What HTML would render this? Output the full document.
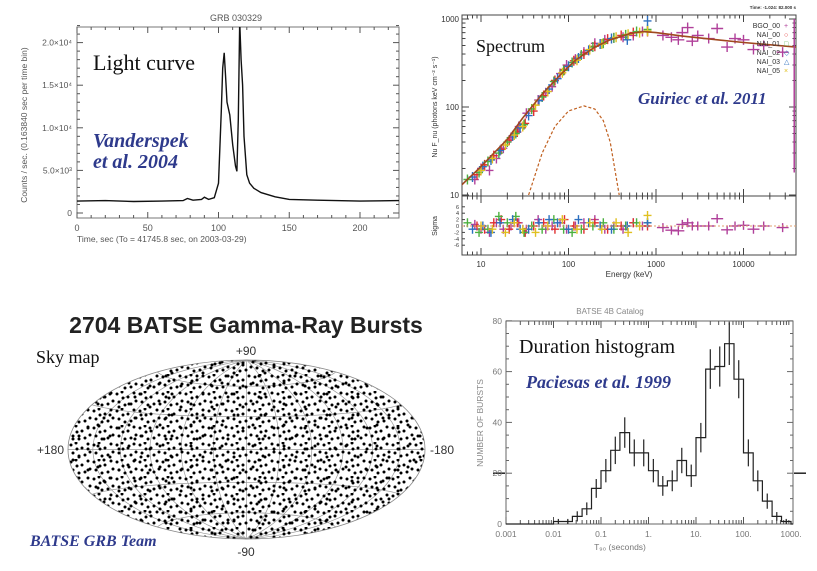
<!DOCTYPE html>
<html><head><meta charset="utf-8"><style>
html,body{margin:0;padding:0;background:#fff}
svg{display:block}
text{font-family:"Liberation Sans",sans-serif}
.cap{font-family:"Liberation Serif",serif;fill:#111}
.cite{font-family:"Liberation Serif",serif;font-style:italic;font-weight:bold;fill:#2e3a8c}
</style></head><body>
<svg id="s" width="817" height="571" viewBox="0 0 817 571" xmlns="http://www.w3.org/2000/svg">
<defs>
<clipPath id="ellClip"><ellipse cx="246.5" cy="449.5" rx="178.5" ry="89.5"/></clipPath>
<clipPath id="lcClip"><rect x="77" y="27" width="322" height="191"/></clipPath>
<clipPath id="spClip"><rect x="462" y="15" width="334" height="181"/></clipPath>
<pattern id="dotsA" width="23" height="17" patternUnits="userSpaceOnUse">
<circle cx="2" cy="3" r="1.5"/><circle cx="7" cy="1" r="1.5"/><circle cx="13" cy="6" r="1.5"/><circle cx="19" cy="2" r="1.5"/><circle cx="21" cy="10" r="1.5"/><circle cx="4" cy="11" r="1.5"/><circle cx="10" cy="14" r="1.5"/><circle cx="16" cy="13" r="1.5"/><circle cx="8" cy="7" r="1.5"/>
</pattern>
<pattern id="dotsB" width="31" height="21" patternUnits="userSpaceOnUse">
<circle cx="5" cy="5" r="1.5"/><circle cx="17" cy="16" r="1.5"/><circle cx="26" cy="8" r="1.5"/><circle cx="11" cy="19" r="1.5"/>
</pattern>
</defs>
<g id="lc"></g>
<g id="sp"></g>
<g id="sky"></g>
<g id="hist"></g>
</svg>
<script>
// ---------- Light curve data ----------
const lcTimes=[-3,20,40,60,75,78,82,88,90,93,97,100,102,103,104,105,106,108,110,112,113,114,115,116,117,118,120,122,125,130,140,150,170,200,228];
const lcCounts=[1400,1450,1350,1400,1450,1700,1500,1600,1850,1600,1800,3500,12000,17000,18800,16000,13000,11500,8000,5500,4900,11000,22500,18000,15000,9000,4500,3500,2900,2400,1900,1600,1500,1400,1450];
const lcXTicks=[0,50,100,150,200];
const lcYTicks=[0,5000,10000,15000,20000];
const lcYLabels=["0","5.0×10³","1.0×10⁴","1.5×10⁴","2.0×10⁴"];
// ---------- Spectrum data ----------
const modelE=[6,8,10,15,20,30,50,80,120,200,300,500,700,1000,2000,5000,10000,40000];
const modelV=[13,17,21,32,43,75,140,230,340,480,580,680,720,700,640,580,540,480];
const bbE=[35,50,70,100,150,200,250,300,380];
const bbV=[10,30,60,90,103,95,70,40,10];
const magE=[8.5,10,12.5,15,18,22,27,33,45,55,65,80,95,120,150,200,260,330,420,550,700,1200,1500,1800,2000,2300,2600,3000,4000,5000,6500,8000,10000,13000,17000,28000];
const magV=[15,20,19,26,34,45,60,85,120,145,170,240,300,350,420,530,580,610,620,650,720,650,620,580,700,800,560,650,600,780,480,600,580,450,500,420];
const magS=[0.5,-1,-2,1,-1,0,1,-1,2,-1,0,1,-1,0,1,2,-1,0,-1,1,0,-0.5,-1.3,-1.5,0.5,1,0,0,0,2.3,-1.2,0,0.2,-1,0,-0.5];
const redE=[9,11,14,17,21,26,32,40,52,70,90,115,150,200,280,400,550,800];
const redV=[17,22,28,33,42,52,65,90,135,200,265,335,400,490,590,650,700,720];
const redS=[0,-1,1,2,-1,1,-2,0,1,-1,2,0,-1,1,-1,0,1,0];
const grnE=[7,9.5,12,16,20,25,31,38,50,68,88,110,140,190,250,330,450,600,800];
const grnV=[15,18,24,30,40,50,63,95,130,195,260,320,390,480,530,610,660,720,760];
const grnS=[1,-2,-1,3,1,3,-2,0,-1,2,-1,-2,-1,0,1,-1,0,1,1];
const bluE=[8,10.5,13,16.5,23,28,35,46,60,75,100,130,170,230,310,470,800];
const bluV=[16,21,25,32,47,58,80,118,160,210,290,360,440,520,600,580,950];
const bluS=[-1,0,-2,1,2,-1,-1,1,2,1,-1,2,1,0,-1,0,1];
const yelE=[10,13.5,19,24,30,42,58,85,125,175,240,350,480,650,800];
const yelV=[19,26,37,48,60,105,150,245,340,450,520,620,670,700,730];
const yelS=[0,-1,-2,1,-1,-2,0,2,-1,1,-1,1,-2,0,3.3];
const spXTicks=[10,100,1000,10000];
const spYTicks=[10,100,1000];
const resTicks=[-6,-4,-2,0,2,4,6];
const legendNames=["BGO_00","NAI_00","NAI_01","NAI_02","NAI_03","NAI_05"];
const legendSyms=["+","○","□","◇","△","×"];
// ---------- Histogram data ----------
const histEdges=[0.001,0.0016,0.0025,0.004,0.0063,0.01,0.016,0.025,0.04,0.063,0.1,0.16,0.25,0.4,0.63,1,1.6,2.5,4,6.3,10,16,25,40,63,100,160,250,400,630,1000,1400];
const histCounts=[0,0,0,0,0,1,1,3,6,14,21,29,36,28,28,21,15,17,25,19,34,61,62,71,57,28,17,9,3,1,0];
const histErrors=[0,0,0,0,0,1,1,2,2.5,3.7,4.6,5.4,6,5.3,5.3,4.6,3.9,4.1,5,4.4,5.8,7.8,7.9,8.4,7.5,5.3,4.1,3,1.7,1,0];
const histXTicks=[0.001,0.01,0.1,1,10,100,1000];
const histXLabels=["0.001","0.01","0.1","1.","10.","100.","1000."];
const histYTicks=[0,20,40,60,80];

const NS="http://www.w3.org/2000/svg";
function mk(parent,tag,attrs,txt){const e=document.createElementNS(NS,tag);for(const k in attrs)e.setAttribute(k,attrs[k]);if(txt!==undefined)e.textContent=txt;parent.appendChild(e);return e;}
const L=Math.log10;

// ===== Light curve =====
(function(){
const g=document.getElementById('lc');
const X=t=>77+1.415*t, Y=v=>213-v*0.00852;
mk(g,'text',{x:236,y:21,'font-size':9,fill:'#555','text-anchor':'middle'},'GRB 030329');
const fr=mk(g,'rect',{x:77,y:27,width:322,height:191,fill:'none',stroke:'#777','stroke-width':1});

for(let t=0;t<=225;t+=10){const big=t%50===0;mk(g,'line',{x1:X(t),x2:X(t),y1:218,y2:218-(big?6:3),stroke:'#555'});mk(g,'line',{x1:X(t),x2:X(t),y1:27,y2:27+(big?6:3),stroke:'#555'});}
lcXTicks.forEach(t=>{const e=mk(g,'text',{x:X(t),y:231,'font-size':9,fill:'#555','text-anchor':'middle'},String(t));});
for(let v=0;v<=22000;v+=1000){const big=v%5000===0;mk(g,'line',{x1:77,x2:77+(big?6:3),y1:Y(v),y2:Y(v),stroke:'#555'});mk(g,'line',{x1:399,x2:399-(big?6:3),y1:Y(v),y2:Y(v),stroke:'#555'});}
lcYTicks.forEach((v,i)=>{const e=mk(g,'text',{x:72,y:Y(v)+3,'font-size':8.5,fill:'#555','text-anchor':'end'},lcYLabels[i]);});
const yt=mk(g,'text',{x:27,y:125,'font-size':8.5,fill:'#555','text-anchor':'middle',transform:'rotate(-90 27 125)'},'Counts / sec.   (0.163840 sec per time bin)');
const xt=mk(g,'text',{x:77,y:242,'font-size':8.5,fill:'#555'},'Time, sec        (To = 41745.8 sec,   on 2003-03-29)');
const d=lcTimes.map((t,i)=>(i?'L':'M')+X(t).toFixed(1)+','+Y(lcCounts[i]).toFixed(1)).join('');
const p=mk(g,'path',{d:d,fill:'none',stroke:'#111','stroke-width':1.4,'clip-path':'url(#lcClip)'});

const c1=mk(g,'text',{x:93,y:70,'font-size':22,class:'cap'},'Light curve');
const c2=mk(g,'text',{x:93,y:147,'font-size':20,class:'cite'},'Vanderspek');
mk(g,'text',{x:93,y:168,'font-size':20,class:'cite'},'et al. 2004');
})();

// ===== Spectrum =====
(function(){
const g=document.getElementById('sp');
const X=E=>481+87.5*L(E/10), Y=v=>195-88*L(v/10), R=s=>226-3.2*s;
mk(g,'text',{x:796,y:9,'font-size':4.5,fill:'#333','text-anchor':'end','font-weight':'bold'},'Time: -1.024: 82.000 s');
const fr=mk(g,'rect',{x:462,y:15,width:334,height:240,fill:'none',stroke:'#444','stroke-width':1});
mk(g,'line',{x1:462,x2:796,y1:196,y2:196,stroke:'#444'});
for(let dec=0;dec<5;dec++)for(let m=1;m<10;m++){const E=Math.pow(10,dec)*m;const x=X(E);if(x<462||x>796)continue;const h=m===1?7:3.5;
[[196,196-h],[15,15+h],[255,255-h],[196,196+h]].forEach(a=>mk(g,'line',{x1:x,x2:x,y1:a[0],y2:a[1],stroke:'#444'}));}
for(let dec=1;dec<4;dec++)for(let m=1;m<10;m++){const v=Math.pow(10,dec)*m;const y=Y(v);if(y<15)continue;const h=m===1?7:3.5;mk(g,'line',{x1:462,x2:462+h,y1:y,y2:y,stroke:'#444'});mk(g,'line',{x1:796,x2:796-h,y1:y,y2:y,stroke:'#444'});}
spXTicks.forEach(E=>{const e=mk(g,'text',{x:X(E),y:267,'font-size':8,fill:'#333','text-anchor':'middle'},String(E));});
spYTicks.forEach(v=>{const e=mk(g,'text',{x:459,y:Y(v)+3,'font-size':8,fill:'#333','text-anchor':'end'},String(v));});
resTicks.forEach(s=>{mk(g,'text',{x:459,y:R(s)+2,'font-size':5.5,fill:'#333','text-anchor':'end'},String(s));mk(g,'line',{x1:462,x2:465,y1:R(s),y2:R(s),stroke:'#444'});});
const yt=mk(g,'text',{x:437,y:107,'font-size':7,fill:'#333','text-anchor':'middle',transform:'rotate(-90 437 107)'},'Nu F_nu (photons keV cm⁻² s⁻¹)');
mk(g,'text',{x:437,y:226,'font-size':7,fill:'#333','text-anchor':'middle',transform:'rotate(-90 437 226)'},'Sigma');
const xt=mk(g,'text',{x:629,y:277,'font-size':8,fill:'#333','text-anchor':'middle'},'Energy (keV)');
const gp=mk(g,'g',{'clip-path':'url(#spClip)'});
const series=[[magE,magV,magS,'#b0409a'],[redE,redV,redS,'#e03030'],[grnE,grnV,grnS,'#4cb040'],[bluE,bluV,bluS,'#2c6fc0'],[yelE,yelV,yelS,'#e0c020']];
const md=modelE.map((E,i)=>(i?'L':'M')+X(E).toFixed(1)+','+Y(modelV[i]).toFixed(1)).join('');
mk(gp,'path',{d:md,fill:'none',stroke:'#e0a070','stroke-width':1});
series.forEach((s,si)=>{const[E,V,S,c]=s;E.forEach((e,i)=>{const x=X(e),y=Y(V[i]);const w=e>1000?6:4;
const m1=mk(gp,'path',{d:`M${x-w},${y}H${x+w}M${x},${y-5}V${y+5}`,stroke:c,'stroke-width':1.4});
const r=R(S[i]);const m2=mk(g,'path',{d:`M${x-w},${r}H${x+w}M${x},${r-4.5}V${r+4.5}`,stroke:c,'stroke-width':1.4});});});
mk(g,'path',{d:`M${X(38000)},${Y(18)}V${Y(1000)}`,stroke:'#b0409a','stroke-width':1.5});
const mp=mk(gp,'path',{d:md,fill:'none',stroke:'#a04820','stroke-width':1.6});
const bd=bbE.map((E,i)=>(i?'L':'M')+X(E).toFixed(1)+','+Y(bbV[i]).toFixed(1)).join('');
const bp=mk(gp,'path',{d:bd,fill:'none',stroke:'#c06020','stroke-width':1.2,'stroke-dasharray':'3,2'});
mk(g,'line',{x1:462,x2:796,y1:R(0),y2:R(0),stroke:'#e0a070','stroke-dasharray':'2,2'});
const legC=['#b0409a','#e03030','#4cb040','#2c6fc0','#2c6fc0','#e0c020'];
legendNames.forEach((n,i)=>{const e=mk(g,'text',{x:780,y:28+i*9,'font-size':7,fill:'#333','text-anchor':'end'},n);mk(g,'text',{x:784,y:28+i*9,'font-size':7,fill:legC[i]},legendSyms[i]);});
const c1=mk(g,'text',{x:476,y:52,'font-size':18,class:'cap'},'Spectrum');
const c2=mk(g,'text',{x:638,y:104,'font-size':17,class:'cite'},'Guiriec et al. 2011');
})();

// ===== Sky map =====
(function(){
const g=document.getElementById('sky');
const cx=246.5,cy=449.5,rx=178.5,ry=89.5;
const t=mk(g,'text',{x:246,y:333,'font-size':23,'font-weight':'bold',fill:'#222','text-anchor':'middle'},'2704 BATSE Gamma-Ray Bursts');
function H(lon,lat){const l=lon*Math.PI/180,p=lat*Math.PI/180;const d=Math.sqrt(1+Math.cos(p)*Math.cos(l/2));return[cx+rx*Math.cos(p)*Math.sin(l/2)/d,cy-ry*Math.sin(p)/d];}
for(let lon=-150;lon<=150;lon+=30){let d='';for(let lat=-90;lat<=90;lat+=5){const q=H(lon,lat);d+=(lat===-90?'M':'L')+q[0].toFixed(1)+','+q[1].toFixed(1);}mk(g,'path',{d:d,fill:'none',stroke:'#999','stroke-width':0.7});}
for(let lat=-60;lat<=60;lat+=30){let d='';for(let lon=-180;lon<=180;lon+=5){const q=H(lon,lat);d+=(lon===-180?'M':'L')+q[0].toFixed(1)+','+q[1].toFixed(1);}mk(g,'path',{d:d,fill:'none',stroke:'#999','stroke-width':0.7});}
const dA=mk(g,'rect',{x:60,y:355,width:370,height:190,fill:'url(#dotsA)','clip-path':'url(#ellClip)'});
mk(g,'rect',{x:63,y:358,width:370,height:190,fill:'url(#dotsB)','clip-path':'url(#ellClip)'});
const el=mk(g,'ellipse',{cx:cx,cy:cy,rx:rx,ry:ry,fill:'none',stroke:'#888','stroke-width':0.8});
[['+90',246,355,'middle'],['-90',246,556,'middle'],['+180',64,454,'end'],['-180',430,454,'start']].forEach(a=>{const e=mk(g,'text',{x:a[1],y:a[2],'font-size':12,fill:'#333','text-anchor':a[3]},a[0]);});
const c1=mk(g,'text',{x:36,y:363,'font-size':18,class:'cap'},'Sky map');
const c2=mk(g,'text',{x:30,y:546,'font-size':16,class:'cite'},'BATSE GRB Team');
})();

// ===== Histogram =====
(function(){
const g=document.getElementById('hist');
const X=v=>506+47.5*(L(v)+3), Y=n=>524-2.54*n;
mk(g,'text',{x:610,y:314,'font-size':8,fill:'#888','text-anchor':'middle'},'BATSE 4B Catalog');
const fr=mk(g,'rect',{x:506,y:321,width:287,height:203,fill:'none',stroke:'#666','stroke-width':1});
for(let dec=-3;dec<3;dec++)for(let m=1;m<10;m++){const x=X(Math.pow(10,dec)*m);const h=m===1?7:4;mk(g,'line',{x1:x,x2:x,y1:524,y2:524-h,stroke:'#555'});mk(g,'line',{x1:x,x2:x,y1:321,y2:321+h,stroke:'#555'});}
for(let n=0;n<=80;n+=5){const big=n%20===0;mk(g,'line',{x1:506,x2:506+(big?6:3),y1:Y(n),y2:Y(n),stroke:'#666'});mk(g,'line',{x1:793,x2:793-(big?6:3),y1:Y(n),y2:Y(n),stroke:'#666'});}
mk(g,'line',{x1:493,x2:505,y1:Y(20),y2:Y(20),stroke:'#222','stroke-width':1.5});mk(g,'line',{x1:794,x2:806,y1:Y(20),y2:Y(20),stroke:'#222','stroke-width':1.5});
histXTicks.forEach((v,i)=>{const e=mk(g,'text',{x:X(v),y:537,'font-size':8.5,fill:'#777','text-anchor':'middle'},histXLabels[i]);});
histYTicks.forEach(n=>{const e=mk(g,'text',{x:502,y:Y(n)+3,'font-size':8.5,fill:'#777','text-anchor':'end'},String(n));});
const yt=mk(g,'text',{x:483,y:423,'font-size':8.5,fill:'#888','text-anchor':'middle',transform:'rotate(-90 483 423)'},'NUMBER OF BURSTS');
const xt=mk(g,'text',{x:620,y:550,'font-size':8.5,fill:'#777','text-anchor':'middle'},'T₉₀ (seconds)');
let d='';histCounts.forEach((n,i)=>{const x0=X(histEdges[i]),x1=Math.min(X(histEdges[i+1]),793),y=Y(n);d+=(i?'L':'M')+x0.toFixed(1)+','+y.toFixed(1)+'L'+x1.toFixed(1)+','+y.toFixed(1);});
const hp=mk(g,'path',{d:d,fill:'none',stroke:'#222','stroke-width':1.2});
histCounts.forEach((n,i)=>{if(!histErrors[i])return;const xm=X(Math.sqrt(histEdges[i]*histEdges[i+1]));const b=mk(g,'line',{x1:xm,x2:xm,y1:Y(n-histErrors[i]),y2:Y(n+histErrors[i]),stroke:'#222','stroke-width':1.2});});
const c1=mk(g,'text',{x:519,y:353,'font-size':20,class:'cap'},'Duration histogram');
const c2=mk(g,'text',{x:526,y:388,'font-size':18,class:'cite'},'Paciesas et al. 1999');
})();
</script>
</body></html>
